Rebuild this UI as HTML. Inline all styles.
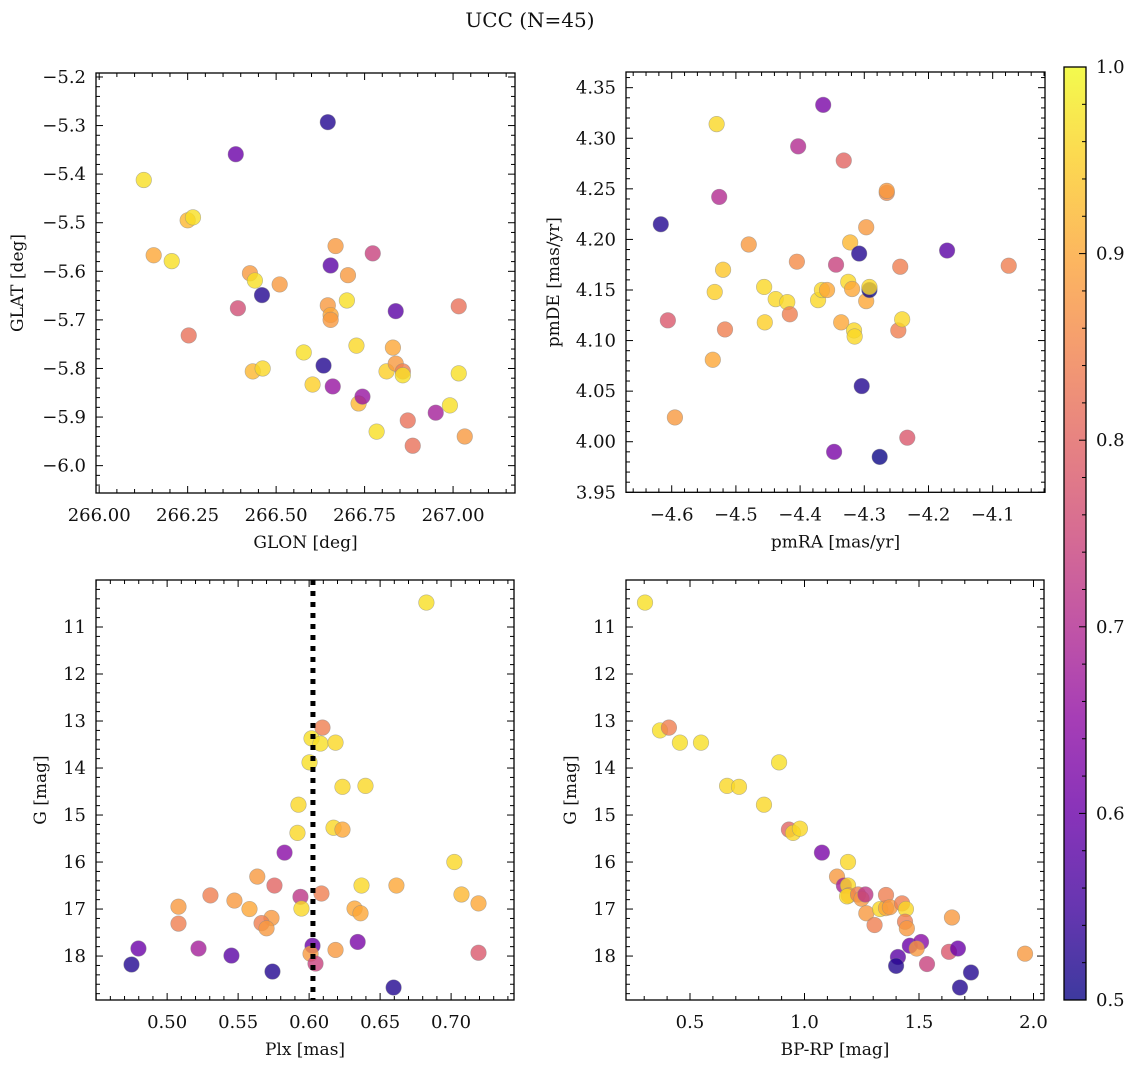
<!DOCTYPE html>
<html><head><meta charset="utf-8"><style>
html,body{margin:0;padding:0;background:#fff;}
svg text{font-family:"DejaVu Serif","Liberation Serif",serif;fill:#111;}
</style></head><body>
<svg id="fig" width="1136" height="1067" xmlns="http://www.w3.org/2000/svg">
<defs>
<linearGradient id="plasma" x1="0" y1="1" x2="0" y2="0">
<stop offset="0" stop-color="#0d0887"/><stop offset="0.1" stop-color="#41049d"/><stop offset="0.2" stop-color="#6a00a8"/><stop offset="0.3" stop-color="#8f0da4"/><stop offset="0.4" stop-color="#b12a90"/><stop offset="0.5" stop-color="#cc4778"/><stop offset="0.6" stop-color="#e16462"/><stop offset="0.7" stop-color="#f2844b"/><stop offset="0.8" stop-color="#fca636"/><stop offset="0.9" stop-color="#fcce25"/><stop offset="1" stop-color="#f0f921"/>
</linearGradient>
</defs>
<text x="530" y="27" font-size="20" text-anchor="middle">UCC (N=45)</text>
</svg>
<script>
// Panel 1: GLON vs GLAT
const glon = [266.126,266.154,266.205,266.25,266.265,266.253,266.386,266.392,266.426,266.44,266.46,266.51,266.434,266.462,266.578,266.603,266.634,266.646,266.646,266.654,266.654,266.654,266.668,266.66,266.703,266.7,266.727,266.733,266.744,266.773,266.784,266.812,266.83,266.838,266.838,266.858,266.858,266.872,266.886,266.951,266.991,267.016,267.016,267.033];
const glat = [-5.412,-5.567,-5.579,-5.495,-5.489,-5.732,-5.359,-5.676,-5.604,-5.619,-5.649,-5.627,-5.806,-5.8,-5.767,-5.833,-5.794,-5.293,-5.67,-5.69,-5.70,-5.588,-5.548,-5.837,-5.608,-5.66,-5.753,-5.872,-5.858,-5.563,-5.93,-5.806,-5.757,-5.79,-5.682,-5.806,-5.814,-5.907,-5.959,-5.891,-5.876,-5.672,-5.81,-5.94];
const prob1 = [0.97,0.9,0.97,0.92,0.97,0.82,0.6,0.76,0.88,0.97,0.52,0.88,0.92,0.96,0.97,0.95,0.52,0.52,0.88,0.9,0.88,0.58,0.88,0.66,0.88,0.97,0.96,0.92,0.66,0.74,0.97,0.95,0.9,0.88,0.58,0.84,0.97,0.82,0.82,0.68,0.97,0.82,0.97,0.88];
// Panel 2: pmRA vs pmDE
const pmra = [-4.617,-4.606,-4.595,-4.536,-4.533,-4.530,-4.526,-4.52,-4.517,-4.48,-4.456,-4.455,-4.438,-4.42,-4.416,-4.405,-4.403,-4.372,-4.366,-4.358,-4.364,-4.344,-4.347,-4.336,-4.332,-4.325,-4.322,-4.319,-4.316,-4.315,-4.308,-4.304,-4.297,-4.297,-4.292,-4.292,-4.276,-4.265,-4.265,-4.247,-4.244,-4.241,-4.233,-4.171,-4.075];
const pmde = [4.215,4.12,4.024,4.081,4.148,4.314,4.242,4.17,4.111,4.195,4.153,4.118,4.141,4.138,4.126,4.178,4.292,4.14,4.15,4.15,4.333,4.175,3.99,4.118,4.278,4.158,4.197,4.151,4.11,4.104,4.186,4.055,4.139,4.212,4.15,4.153,3.985,4.246,4.248,4.11,4.173,4.121,4.004,4.189,4.174];
const prob2 = [0.52,0.78,0.88,0.9,0.95,0.96,0.7,0.94,0.84,0.88,0.96,0.95,0.96,0.96,0.84,0.86,0.7,0.96,0.96,0.9,0.62,0.74,0.62,0.9,0.8,0.96,0.92,0.9,0.96,0.96,0.52,0.52,0.9,0.88,0.5,0.96,0.5,0.86,0.88,0.84,0.84,0.96,0.78,0.58,0.84];
// Panel 3: Plx vs G
const plx = [0.6826,0.6094,0.6017,0.608,0.6186,0.6003,0.6235,0.6397,0.5925,0.5918,0.6172,0.6235,0.7023,0.5827,0.5635,0.6369,0.6615,0.5305,0.5474,0.5756,0.5939,0.6087,0.558,0.5735,0.5665,0.57,0.5946,0.632,0.6362,0.7073,0.7193,0.508,0.508,0.6342,0.6024,0.601,0.6186,0.4798,0.5221,0.5453,0.4749,0.5742,0.6045,0.7193,0.6595];
const gmag3 = [10.48,13.14,13.37,13.48,13.46,13.88,14.4,14.38,14.78,15.38,15.27,15.31,16.0,15.8,16.31,16.5,16.5,16.71,16.82,16.5,16.74,16.67,17.0,17.19,17.3,17.41,16.99,16.99,17.09,16.69,16.88,16.95,17.31,17.7,17.78,17.95,17.87,17.84,17.84,17.99,18.18,18.33,18.16,17.93,18.67];
const prob3 = [0.97,0.84,0.97,0.97,0.96,0.97,0.96,0.96,0.96,0.96,0.96,0.9,0.96,0.64,0.88,0.96,0.9,0.84,0.88,0.8,0.72,0.84,0.9,0.88,0.84,0.88,0.96,0.9,0.9,0.92,0.9,0.88,0.84,0.62,0.6,0.88,0.88,0.6,0.68,0.58,0.52,0.52,0.74,0.78,0.52];
const plxLine = [0.6027];
// Panel 4: BP-RP vs G
const bprp = [0.3035,0.369,0.408,0.456,0.548,0.662,0.714,0.889,0.823,0.932,0.95,0.98,1.076,1.19,1.142,1.172,1.19,1.193,1.186,1.234,1.249,1.266,1.27,1.306,1.33,1.356,1.356,1.373,1.426,1.443,1.439,1.447,1.46,1.509,1.49,1.408,1.4,1.535,1.631,1.67,1.644,1.679,1.727,1.963];
const gmag4 = [10.48,13.2,13.14,13.46,13.46,14.38,14.4,13.88,14.78,15.31,15.38,15.29,15.8,16.0,16.31,16.5,16.5,16.71,16.73,16.69,16.78,16.69,17.09,17.34,17.0,16.98,16.7,16.96,16.88,17.0,17.27,17.41,17.78,17.7,17.84,18.02,18.21,18.17,17.91,17.84,17.18,18.67,18.35,17.95];
const prob4 = [0.97,0.97,0.84,0.97,0.97,0.96,0.96,0.97,0.96,0.8,0.96,0.96,0.62,0.96,0.88,0.68,0.96,0.88,0.96,0.84,0.88,0.72,0.88,0.84,0.96,0.9,0.84,0.88,0.84,0.96,0.84,0.88,0.6,0.64,0.88,0.58,0.52,0.74,0.78,0.6,0.88,0.52,0.52,0.88];
// tick labels
const xt1 = ["266.00","266.25","266.50","266.75","267.00"];
const yt1 = ["-5.2","-5.3","-5.4","-5.5","-5.6","-5.7","-5.8","-5.9","-6.0"];
const xt2 = ["-4.6","-4.5","-4.4","-4.3","-4.2","-4.1"];
const yt2 = ["3.95","4.00","4.05","4.10","4.15","4.20","4.25","4.30","4.35"];
const xt3 = ["0.50","0.55","0.60","0.65","0.70"];
const yt3 = ["11","12","13","14","15","16","17","18"];
const xt4 = ["0.5","1.0","1.5","2.0"];
const cbt = ["0.5","0.6","0.7","0.8","0.9","1.0"];

const NS="http://www.w3.org/2000/svg";
const svg=document.getElementById('fig');
function mk(tag,attrs,parent){const e=document.createElementNS(NS,tag);for(const k in attrs)e.setAttribute(k,attrs[k]);(parent||svg).appendChild(e);return e;}
const stops=["#0d0887","#41049d","#6a00a8","#8f0da4","#b12a90","#cc4778","#e16462","#f2844b","#fca636","#fcce25","#f0f921"];
function hex(h){return [parseInt(h.slice(1,3),16),parseInt(h.slice(3,5),16),parseInt(h.slice(5,7),16)];}
function cmap(p){let t=Math.max(0,Math.min(1,(p-0.5)/0.5))*10;const i=Math.min(9,Math.floor(t));const f=t-i;const a=hex(stops[i]),b=hex(stops[i+1]);return 'rgb('+a.map((v,k)=>Math.round(v+(b[k]-v)*f)).join(',')+')';}
function lin(d0,d1,r0,r1){return v=>r0+(v-d0)*(r1-r0)/(d1-d0);}

function panel(o){
  const g=mk('g',{});
  
  
  const sx=lin(o.xd[0],o.xd[1],o.L,o.R), sy=lin(o.yd[0],o.yd[1],o.B,o.T);
  const pg=mk('g',{},g);
  
  
  for(let i=0;i<o.xs.length;i++){
    const c=mk('circle',{cx:sx(o.xs[i]),cy:sy(o.ys[i]),r:7.8,fill:cmap(o.ps[i]),'fill-opacity':0.8,stroke:'#888','stroke-opacity':0.6,'stroke-width':0.6},pg);
    
    
  }
  if(o.vline){for(const v of o.vline){const l=mk('line',{x1:sx(v),x2:sx(v),y1:o.T,y2:o.B,stroke:'#000','stroke-width':5,'stroke-dasharray':'5,6'},g);
    
    }}
  const fr=mk('rect',{x:o.L,y:o.T,width:o.R-o.L,height:o.B-o.T,fill:'none',stroke:'#000','stroke-width':1.3},g);
  
  
  function ticks(axis,start,step,minorStep){
    const isX=axis==='x';const s=isX?sx:sy;const lo=isX?Math.min(o.xd[0],o.xd[1]):Math.min(o.yd[0],o.yd[1]);const hi=isX?Math.max(o.xd[0],o.xd[1]):Math.max(o.yd[0],o.yd[1]);
    const k0=Math.ceil((lo-start)/minorStep-1e-6),k1=Math.floor((hi-start)/minorStep+1e-6);
    const ratio=Math.round(Math.abs(step)/minorStep);
    for(let k=k0;k<=k1;k++){const v=start+k*minorStep;const p=s(v);const maj=(((k%ratio)+ratio)%ratio)===0;const len=maj?7:4;
      if(isX){mk('line',{x1:p,x2:p,y1:o.B,y2:o.B-len,stroke:'#000','stroke-width':1},g);mk('line',{x1:p,x2:p,y1:o.T,y2:o.T+len,stroke:'#000','stroke-width':1},g);}
      else{mk('line',{y1:p,y2:p,x1:o.L,x2:o.L+len,stroke:'#000','stroke-width':1},g);mk('line',{y1:p,y2:p,x1:o.R,x2:o.R-len,stroke:'#000','stroke-width':1},g);}
    }
  }
  ticks('x',o.xt0,o.xstep,o.xminor);ticks('y',o.yt0,o.ystep,o.yminor);
  o.xlabels.forEach((t,i)=>{const tx=mk('text',{x:sx(o.xt0+i*o.xstep),y:o.B+28,'font-size':18,'text-anchor':'middle'},g);tx.textContent=t.replace('-','\u2212');
    
    });
  o.ylabels.forEach((t,i)=>{const tx=mk('text',{x:o.L-10,y:sy(o.yt0+i*o.ystep)+6,'font-size':18,'text-anchor':'end'},g);tx.textContent=t.replace('-','\u2212');
    
    });
  const xl=mk('text',{x:(o.L+o.R)/2,y:o.B+55,'font-size':17,'text-anchor':'middle'},g);xl.textContent=o.xtitle;
  
  
  const yl=mk('text',{x:o.ytx,y:(o.T+o.B)/2,'font-size':17,'text-anchor':'middle',transform:'rotate(-90 '+o.ytx+' '+((o.T+o.B)/2)+')'},g);yl.textContent=o.ytitle;
  
  
}
panel({name:'glon-glat-panel',L:96,R:515,T:73,B:493,xd:[265.991,267.175],yd:[-6.0563,-5.1918],xs:glon,ys:glat,ps:prob1,
  xt0:266,xstep:0.25,xminor:0.05,yt0:-5.2,ystep:-0.1,yminor:0.02,xlabels:xt1,ylabels:yt1,xtitle:'GLON [deg]',ytitle:'GLAT [deg]',ytx:23});
panel({name:'proper-motion-panel',L:626,R:1045,T:72,B:492.3,xd:[-4.6712,-4.0185],yd:[3.95,4.3655],xs:pmra,ys:pmde,ps:prob2,
  xt0:-4.6,xstep:0.1,xminor:0.02,yt0:3.95,ystep:0.05,yminor:0.01,xlabels:xt2,ylabels:yt2,xtitle:'pmRA [mas/yr]',ytitle:'pmDE [mas/yr]',ytx:559});
panel({name:'plx-g-panel',L:96,R:514,T:580,B:1000,xd:[0.4499,0.7443],yd:[18.935,10.0],xs:plx,ys:gmag3,ps:prob3,vline:plxLine,
  xt0:0.5,xstep:0.05,xminor:0.01,yt0:11,ystep:1,yminor:0.2,xlabels:xt3,ylabels:yt3,xtitle:'Plx [mas]',ytitle:'G [mag]',ytx:46});
panel({name:'cmd-panel',L:626,R:1044,T:580,B:1000,xd:[0.2205,2.0459],yd:[18.935,10.0],xs:bprp,ys:gmag4,ps:prob4,
  xt0:0.5,xstep:0.5,xminor:0.1,yt0:11,ystep:1,yminor:0.2,xlabels:xt4,ylabels:yt3,xtitle:'BP-RP [mag]',ytitle:'G [mag]',ytx:576});
const cb=mk('g',{});


mk('rect',{x:1064,y:67,width:22,height:933,fill:'url(#plasma)','fill-opacity':0.8},cb);
mk('rect',{x:1064,y:67,width:22,height:933,fill:'none',stroke:'#000','stroke-width':1.3},cb);
const cy=lin(0.5,1.0,1000,67);
for(let k=0;k<=25;k++){const v=0.5+k*0.02;const p=cy(v);const maj=k%5===0;mk('line',{x1:1086,x2:1086-(maj?7:4),y1:p,y2:p,stroke:'#000','stroke-width':1},cb);}
cbt.forEach((t)=>{const tx=mk('text',{x:1096,y:cy(parseFloat(t))+6,'font-size':18},cb);tx.textContent=t;
  
  });
</script>
</body></html>
